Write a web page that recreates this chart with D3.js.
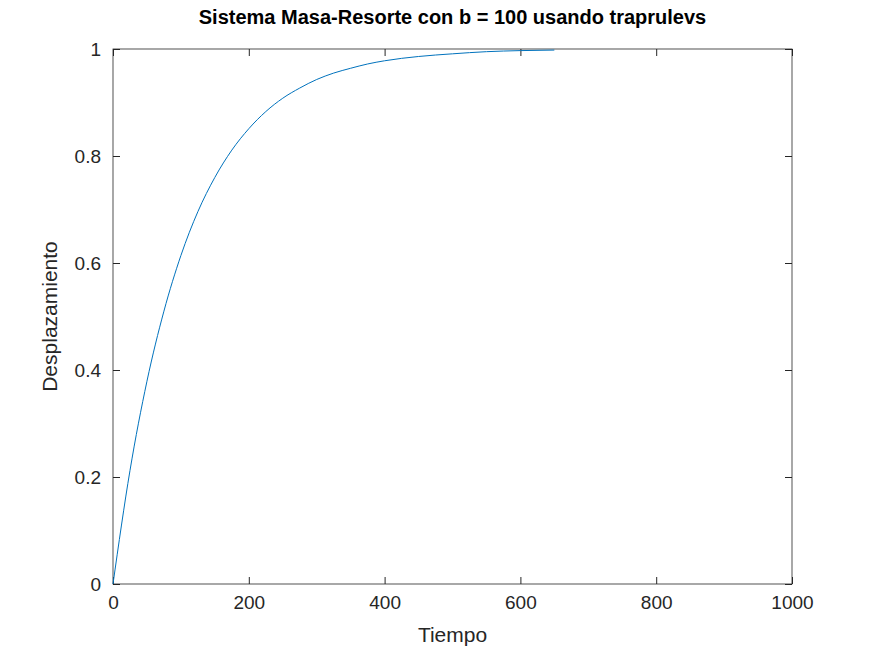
<!DOCTYPE html>
<html>
<head>
<meta charset="utf-8">
<script src="https://cdn.jsdelivr.net/npm/d3@7"></script>
<style>
  body { margin: 0; background: #fff; }
  text { font-family: "Liberation Sans", Arial, sans-serif; }
</style>
</head>
<body>
<div id="chart"></div>
<script>
// readings
const tiempo = [0, 25, 50, 75, 100, 125, 150, 175, 200, 225, 250, 275, 300, 325, 350, 375, 400, 450, 500, 550, 600, 650];
const desplazamiento = [0, 0.212, 0.379, 0.510, 0.614, 0.696, 0.760, 0.811, 0.851, 0.883, 0.908, 0.927, 0.943, 0.955, 0.964, 0.972, 0.978, 0.986, 0.991, 0.995, 0.997, 0.998];
const xTicks = [0, 200, 400, 600, 800, 1000];
const yTicks = [0, 0.2, 0.4, 0.6, 0.8, 1];

const width = 875, height = 656;
const margin = { top: 49, right: 83, bottom: 72, left: 113 };

const svg = d3.select("#chart").append("svg")
  .attr("width", width).attr("height", height);

const x = d3.scaleLinear().domain([0, 1000]).range([margin.left, width - margin.right]);
const y = d3.scaleLinear().domain([0, 1]).range([height - margin.bottom, margin.top]);

// box
svg.append("rect")
  .attr("x", x(0)).attr("y", y(1))
  .attr("width", x(1000) - x(0)).attr("height", y(0) - y(1))
  .attr("fill", "none").attr("stroke", "#262626").attr("stroke-width", 0.8);

const fmt = d => d3.format("~g")(d);

// bottom + top axes
svg.append("g").attr("transform", `translate(0,${y(0)})`)
  .call(d3.axisBottom(x).tickValues(xTicks).tickFormat(fmt).tickSizeInner(-7).tickSizeOuter(0).tickPadding(12));
svg.append("g").attr("transform", `translate(0,${y(1)})`)
  .call(d3.axisTop(x).tickValues(xTicks).tickFormat("").tickSizeInner(-7).tickSizeOuter(0));
// left + right axes
svg.append("g").attr("transform", `translate(${x(0)},0)`)
  .call(d3.axisLeft(y).tickValues(yTicks).tickFormat(fmt).tickSizeInner(-7).tickSizeOuter(0).tickPadding(12));
svg.append("g").attr("transform", `translate(${x(1000)},0)`)
  .call(d3.axisRight(y).tickValues(yTicks).tickFormat("").tickSizeInner(-7).tickSizeOuter(0));

svg.selectAll(".domain").remove();
svg.selectAll(".tick line").attr("stroke", "#262626");
svg.selectAll(".tick text").attr("font-size", 19).attr("fill", "#262626");

// curve
const line = d3.line()
  .x((d, i) => x(tiempo[i]))
  .y(d => y(d))
  .curve(d3.curveMonotoneX);
svg.append("path")
  .datum(desplazamiento)
  .attr("d", line)
  .attr("fill", "none")
  .attr("stroke", "#0072bd")
  .attr("stroke-width", 1);

// labels
svg.append("text")
  .attr("x", (x(0) + x(1000)) / 2).attr("y", 24)
  .attr("text-anchor", "middle").attr("font-size", 20).attr("font-weight", "bold")
  .text("Sistema Masa-Resorte con b = 100 usando traprulevs");
svg.append("text")
  .attr("x", (x(0) + x(1000)) / 2).attr("y", 642)
  .attr("text-anchor", "middle").attr("font-size", 21).attr("fill", "#262626")
  .text("Tiempo");
svg.append("text")
  .attr("transform", `translate(57,${(y(0) + y(1)) / 2}) rotate(-90)`)
  .attr("text-anchor", "middle").attr("font-size", 21).attr("fill", "#262626")
  .text("Desplazamiento");
</script>
</body>
</html>
